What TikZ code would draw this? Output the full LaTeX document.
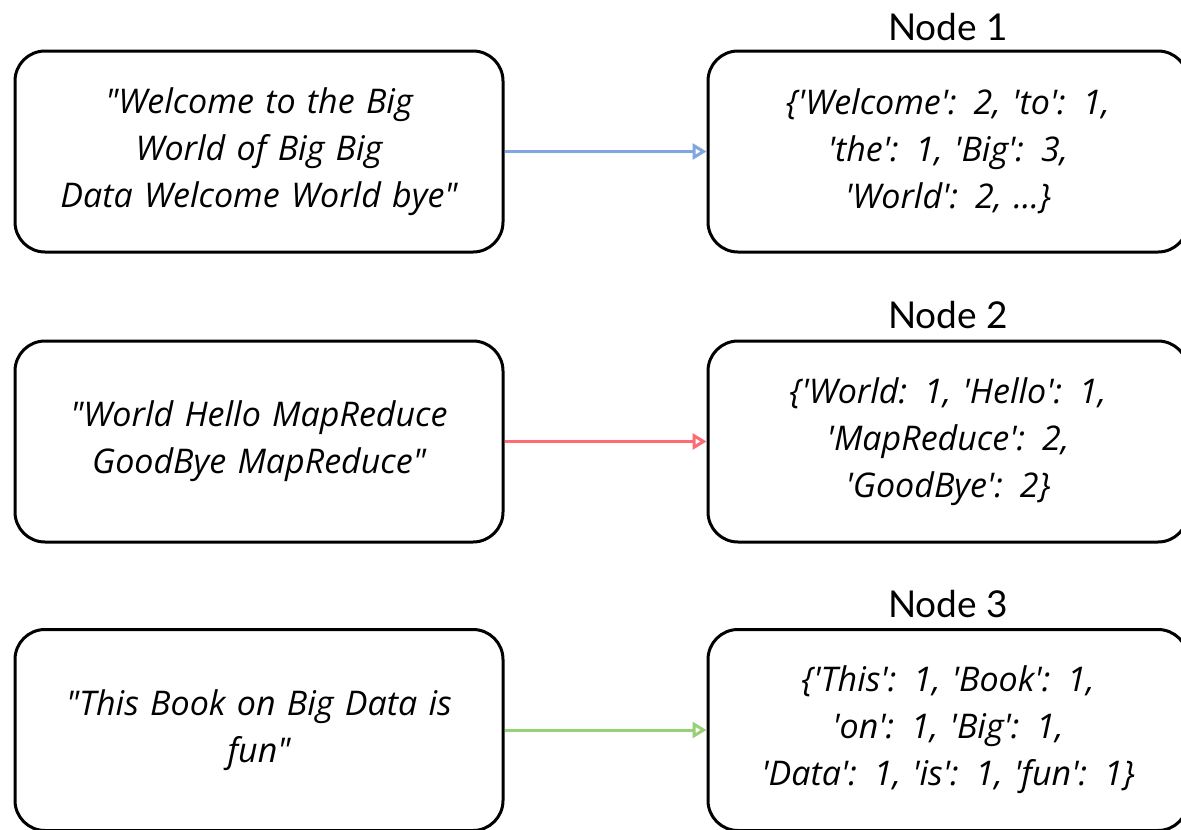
\documentclass[tikz,border=0pt]{standalone}
\usepackage{fontspec}
\usetikzlibrary{arrows.meta}
\newfontfamily\handfont[Ligatures=TeXOff]{Open Sans}
\newfontfamily\labelfont{Lato}
\definecolor{cblue}{HTML}{7EA6E0}
\definecolor{cred}{HTML}{FF6B72}
\definecolor{cgreen}{HTML}{97D077}
\begin{document}
\begin{tikzpicture}[x=1pt,y=-1pt,
  box/.style={draw=black, line width=3pt, rounded corners=30pt, fill=white,
    minimum height=201pt, align=center, inner sep=0pt,
    font=\handfont\itshape\fontsize{34}{47}\selectfont},
  lbox/.style={box, minimum width=488pt, text width=475pt},
  rbox/.style={box, minimum width=480pt, text width=470pt},
  nodelabel/.style={font=\labelfont\fontsize{37}{42}\selectfont, inner sep=0pt},
  flow/.style={line width=3pt, -{Triangle[open, length=14pt, width=16pt, line width=3pt]}}]
\useasboundingbox (0,0) rectangle (1181,830);
\fill[white] (0,0) rectangle (1181,830);

\node[lbox] (in1) at (259,151.5) {"Welcome to the Big\\World of Big Big\\Data Welcome World bye"};
\node[rbox] (out1) at (948,151.5) {\{'Welcome': 2, 'to': 1,\\'the': 1, 'Big': 3,\\'World': 2, ...\}};
\node[nodelabel] (lab1) at (948,27) {Node 1};

\node[lbox] (in2) at (259,441.5) {"World Hello MapReduce\\GoodBye MapReduce"};
\node[rbox] (out2) at (948,441.5) {\{'World: 1, 'Hello': 1,\\'MapReduce': 2,\\'GoodBye': 2\}};
\node[nodelabel] (lab2) at (948,315) {Node 2};

\node[lbox] (in3) at (259,730) {"This Book on Big Data is\\fun"};
\node[rbox] (out3) at (948,730) {\{'This': 1, 'Book': 1,\\'on': 1, 'Big': 1,\\'Data': 1, 'is': 1, 'fun': 1\}};
\node[nodelabel] (lab3) at (948,604) {Node 3};

\draw[flow, cblue] (in1.east) -- (out1.west);
\draw[flow, cred] (in2.east) -- (out2.west);
\draw[flow, cgreen] (in3.east) -- (out3.west);
\end{tikzpicture}
\end{document}
